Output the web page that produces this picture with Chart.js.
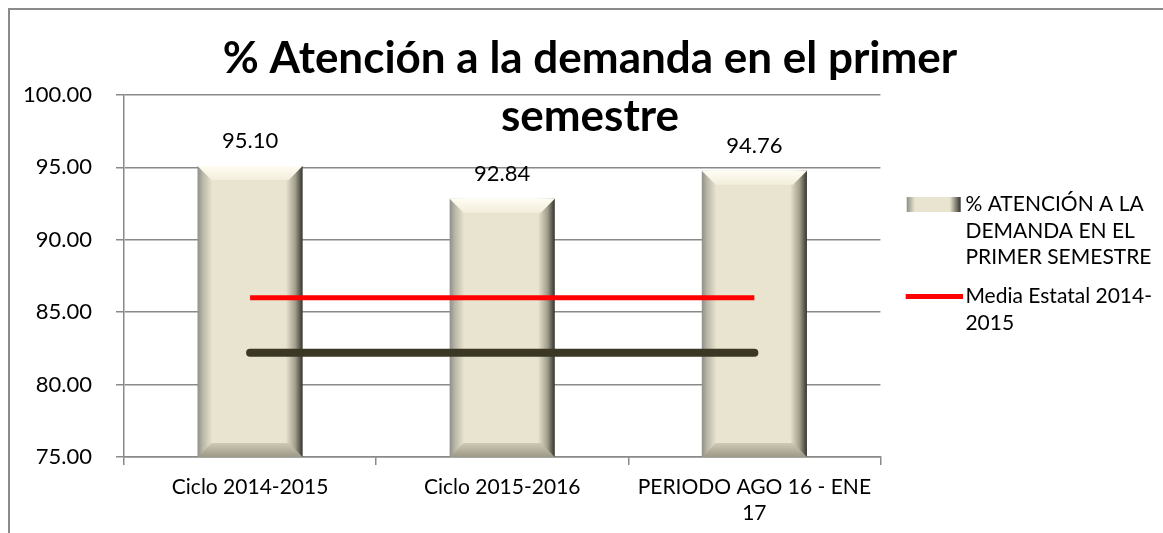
<!DOCTYPE html>
<html>
<head>
<meta charset="utf-8">
<script src="https://cdn.jsdelivr.net/npm/chart.js@4"></script>
<style>
  html, body { margin: 0; padding: 0; background: #fff; overflow: hidden; }
  #frame {
    position: absolute; left: 8px; top: 8px; width: 3000px; height: 3000px;
    border-left: 2px solid #8a8a8a; border-top: 2px solid #8a8a8a;
  }
  #wrap { position: absolute; left: 0; top: 0; width: 1163px; height: 533px; }
</style>
</head>
<body>
<div id="frame"></div>
<div id="wrap"><canvas id="chart"></canvas></div>
<script>
// Chart data
const categories = ['Ciclo 2014-2015', 'Ciclo 2015-2016', ['PERIODO AGO 16 - ENE', '17']];
const atencion = [95.10, 92.84, 94.76];
const mediaEstatal = [86.0, 86.0, 86.0];
const mediaNacional = [82.2, 82.2, 82.2];

const titleLines = ['% Atención a la demanda en el primer', 'semestre'];
const barLegend = ['% ATENCIÓN A LA', 'DEMANDA EN EL', 'PRIMER SEMESTRE'];
const redLegend = ['Media Estatal 2014-', '2015'];

const yMin = 75, yMax = 100, yStep = 5;

const BAR_PCT = 0.417;
const GRID = '#8a8a8a';

Chart.defaults.font.family = "Lato, sans-serif";
Chart.defaults.color = '#000';

// horizontal shading of each bar (bevel look)
function barFill(c) {
    const chart = c.chart;
    if (!chart.chartArea || c.type !== 'data') return '#e9e4cf';
    const x = chart.scales.x;
    const cx = x.getPixelForValue(c.dataIndex);
    const half = (x.width / categories.length) * BAR_PCT / 2;
    const g = chart.ctx.createLinearGradient(cx - half, 0, cx + half, 0);
    g.addColorStop(0, '#8f8f88');
    g.addColorStop(0.05, '#b9b6a6');
    g.addColorStop(0.14, '#e9e4cf');
    g.addColorStop(0.84, '#e9e4cf');
    g.addColorStop(0.93, '#a19e8c');
    g.addColorStop(1, '#34342e');
    return g;
}

// top / bottom bevels on the bar elements
const bevelPlugin = {
    id: 'bevel',
    afterDatasetDraw(chart, args) {
        if (args.meta.type !== 'bar') return;
        const ctx = chart.ctx;
        args.meta.data.forEach(el => {
            const p = el.getProps(['x', 'y', 'base', 'width'], true);
            const base = Math.min(p.base, chart.chartArea.bottom);
            const l = p.x - p.width / 2, r = p.x + p.width / 2, b = 14;
            ctx.save();
            let g = ctx.createLinearGradient(0, p.y, 0, p.y + b);
            g.addColorStop(0, '#fffdf3');
            g.addColorStop(1, '#f2eedb');
            ctx.fillStyle = g;
            ctx.beginPath();
            ctx.moveTo(l, p.y); ctx.lineTo(r, p.y);
            ctx.lineTo(r - b, p.y + b); ctx.lineTo(l + b, p.y + b);
            ctx.closePath(); ctx.fill();
            g = ctx.createLinearGradient(0, base - b, 0, base);
            g.addColorStop(0, '#cfcab4');
            g.addColorStop(1, '#9d9987');
            ctx.fillStyle = g;
            ctx.beginPath();
            ctx.moveTo(l, base); ctx.lineTo(r, base);
            ctx.lineTo(r - b, base - b); ctx.lineTo(l + b, base - b);
            ctx.closePath(); ctx.fill();
            ctx.restore();
        });
    }
};

// value labels above the bars
const valueLabels = {
    id: 'valueLabels',
    afterDatasetsDraw(chart) {
        const meta = chart.getDatasetMeta(2);
        const ctx = chart.ctx;
        ctx.save();
        ctx.font = '22px Lato, sans-serif';
        ctx.fillStyle = '#000';
        ctx.textAlign = 'center';
        ctx.textBaseline = 'alphabetic';
        meta.data.forEach((el, i) => {
            ctx.fillText(atencion[i].toFixed(2), el.x, el.y - 18);
        });
        ctx.restore();
    }
};

function barIcon() {
    const c = document.createElement('canvas');
    c.width = 77; c.height = 15;
    const ctx = c.getContext('2d');
    const g = ctx.createLinearGradient(21, 0, 75, 0);
    g.addColorStop(0, '#8f8f88');
    g.addColorStop(0.15, '#e9e4cf');
    g.addColorStop(0.8, '#e9e4cf');
    g.addColorStop(1, '#34342e');
    ctx.fillStyle = g;
    ctx.fillRect(21, 0, 54, 15);
    return c;
}

function lineIcon() {
    const c = document.createElement('canvas');
    c.width = 77; c.height = 5;
    const ctx = c.getContext('2d');
    ctx.fillStyle = '#ff0000';
    ctx.fillRect(20, 0, 57, 5);
    return c;
}

const ctx = document.getElementById('chart');

new Chart(ctx, {
    type: 'bar',
    data: {
        labels: categories,
        datasets: [
            {
                type: 'line',
                label: 'Media Estatal 2014-2015',
                data: mediaEstatal,
                borderColor: '#ff0000',
                backgroundColor: '#ff0000',
                borderWidth: 5,
                pointRadius: 0,
                order: 0
            },
            {
                type: 'line',
                label: 'Media',
                data: mediaNacional,
                borderColor: '#3a3725',
                backgroundColor: '#3a3725',
                borderWidth: 8,
                borderCapStyle: 'round',
                pointRadius: 0,
                order: 1
            },
            {
                label: '% ATENCIÓN A LA DEMANDA EN EL PRIMER SEMESTRE',
                data: atencion,
                backgroundColor: barFill,
                borderWidth: 0,
                barPercentage: BAR_PCT,
                categoryPercentage: 1,
                order: 2
            }
        ]
    },
    options: {
        responsive: true,
        maintainAspectRatio: false,
        animation: false,
        events: [],
        layout: { padding: { left: 18, right: 1, top: 0, bottom: 0 } },
        plugins: {
            title: {
                display: true,
                text: titleLines,
                color: '#000',
                font: { size: 44, weight: 'bold', lineHeight: 1.318 },
                padding: { top: 30, bottom: -51 }
            },
            legend: {
                position: 'right',
                labels: {
                    usePointStyle: true,
                    pointStyleWidth: 61.5,
                    padding: 13,
                    color: '#000',
                    font: { size: 21, lineHeight: 1.26 },
                    generateLabels: () => [
                        { text: barLegend, pointStyle: barIcon(), fillStyle: '#e9e4cf', strokeStyle: 'transparent', lineWidth: 0, hidden: false, datasetIndex: 2, fontColor: '#000' },
                        { text: redLegend, pointStyle: lineIcon(), fillStyle: '#ff0000', strokeStyle: 'transparent', lineWidth: 0, hidden: false, datasetIndex: 0, fontColor: '#000' }
                    ]
                }
            },
            tooltip: { enabled: false }
        },
        scales: {
            x: {
                offset: true,
                grid: { drawOnChartArea: false, drawTicks: true, tickLength: 8, color: GRID, lineWidth: 1.5, offset: true },
                border: { color: GRID, width: 1.5 },
                ticks: { font: { size: 21 }, color: '#000', padding: 10, maxRotation: 0 },
                afterFit: s => { s.height = 76; }
            },
            y: {
                min: yMin,
                max: yMax,
                grid: { color: GRID, lineWidth: 1.5, tickLength: 8 },
                border: { color: GRID, width: 1.5 },
                ticks: {
                    stepSize: yStep,
                    font: { size: 22 },
                    color: '#000',
                    padding: 24,
                    callback: v => v.toFixed(2)
                },
                afterFit: s => { s.width = 106; }
            }
        }
    },
    plugins: [bevelPlugin, valueLabels]
});
</script>
</body>
</html>
